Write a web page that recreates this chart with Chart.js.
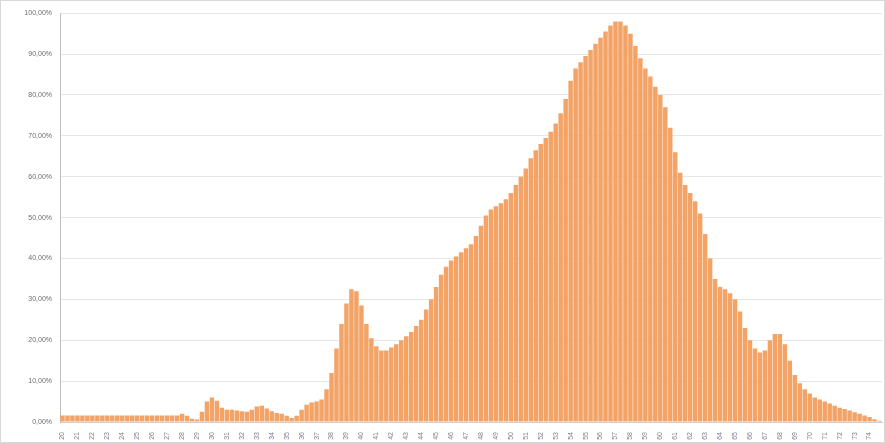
<!DOCTYPE html>
<html>
<head>
<meta charset="utf-8">
<script src="https://cdn.jsdelivr.net/npm/chart.js@4.4.1/dist/chart.umd.min.js"></script>
<style>
  html, body { margin: 0; padding: 0; background: #fff; }
  #wrap { position: relative; width: 883px; height: 441px; border: 1px solid #d9d9d9; }
</style>
</head>
<body>
<div id="wrap"><canvas id="shareChart"></canvas></div>
<script>
// one label under every third bar
var tickLabels = ["20","21","22","23","24","25","26","27","28","29",
  "30","31","32","33","34","35","36","37","38","39",
  "40","41","42","43","44","45","46","47","48","49",
  "50","51","52","53","54","55","56","57","58","59",
  "60","61","62","63","64","65","66","67","68","69",
  "70","71","72","73","74"];

// share in percent, one value per bar
var shareValues = [
  1.6, 1.6, 1.6, 1.6, 1.6, 1.6, 1.6, 1.6, 1.6, 1.6,
  1.6, 1.6, 1.6, 1.6, 1.6, 1.6, 1.6, 1.6, 1.6, 1.6,
  1.6, 1.6, 1.6, 1.6, 2.0, 1.5, 0.8, 0.6, 2.5, 5.0,
  6.0, 5.2, 3.5, 3.0, 3.0, 2.8, 2.6, 2.5, 3.0, 3.8,
  4.0, 3.3, 2.6, 2.2, 2.0, 1.5, 1.0, 1.5, 3.0, 4.2,
  4.8, 5.0, 5.5, 8.0, 12.0, 18.0, 24.0, 29.0, 32.5, 32.0,
  28.5, 24.0, 20.5, 18.5, 17.5, 17.5, 18.2, 19.0, 20.0, 21.0,
  22.0, 23.5, 25.0, 27.5, 30.0, 33.0, 36.0, 38.0, 39.5, 40.5,
  41.5, 42.5, 43.5, 45.5, 48.0, 50.5, 52.0, 52.8, 53.5, 54.5,
  56.0, 58.0, 60.0, 62.0, 64.5, 66.5, 68.0, 69.5, 71.0, 73.0,
  75.5, 79.0, 83.5, 86.5, 88.0, 89.5, 91.0, 92.5, 94.0, 95.5,
  97.0, 98.0, 98.0, 97.0, 95.0, 92.0, 89.0, 86.5, 84.5, 82.0,
  80.0, 77.0, 72.0, 66.0, 61.0, 58.0, 56.0, 54.0, 51.0, 46.0,
  40.0, 35.0, 33.0, 32.5, 31.5, 30.0, 27.0, 23.0, 20.0, 18.0,
  17.0, 17.5, 20.0, 21.5, 21.5, 19.0, 15.0, 11.5, 9.5, 8.0,
  7.0, 6.0, 5.5, 5.0, 4.5, 4.0, 3.5, 3.2, 2.8, 2.4,
  2.0, 1.6, 1.2, 0.7, 0.3
];

var barsPerLabel = 3;
var barLabels = shareValues.map(function (v, i) { return tickLabels[Math.floor(i / barsPerLabel)]; });

document.addEventListener("DOMContentLoaded", function () {
  var ctx = document.getElementById('shareChart').getContext('2d');

  var chart = new Chart(ctx, {
    type: "bar",
    data: {
      labels: barLabels,
      datasets: [{
        data: shareValues,
        backgroundColor: "#F3A366",
        borderWidth: 0,
        barPercentage: 1,
        categoryPercentage: 0.9
      }]
    },
    options: {
      responsive: true,
      maintainAspectRatio: false,
      animation: false,
      layout: { padding: { top: 4, right: 2, left: 0, bottom: 0 } },
      plugins: {
        legend: { display: false },
        tooltip: { enabled: false }
      },
      scales: {
        x: {
          grid: { display: false },
          border: { color: "#d0d0d0" },
          ticks: {
            autoSkip: false,
            minRotation: 90,
            maxRotation: 90,
            padding: 2,
            color: "#7a7f88",
            font: { family: "Liberation Sans", size: 7 },
            callback: function (value, index) {
              return index % barsPerLabel === 0 ? tickLabels[index / barsPerLabel] : null;
            }
          },
          afterFit: function (scale) { scale.height = 20; }
        },
        y: {
          min: 0,
          max: 100,
          grid: { color: "#e6e6e6", drawTicks: false },
          border: { color: "#bfbfbf" },
          ticks: {
            stepSize: 10,
            padding: 8,
            color: "#6b6b6b",
            font: { family: "Liberation Sans", size: 7 },
            callback: function (value) {
              return value.toFixed(2).replace(".", ",") + "%";
            }
          },
          afterFit: function (scale) { scale.width = 59; }
        }
      }
    }
  });
});
</script>
</body>
</html>
